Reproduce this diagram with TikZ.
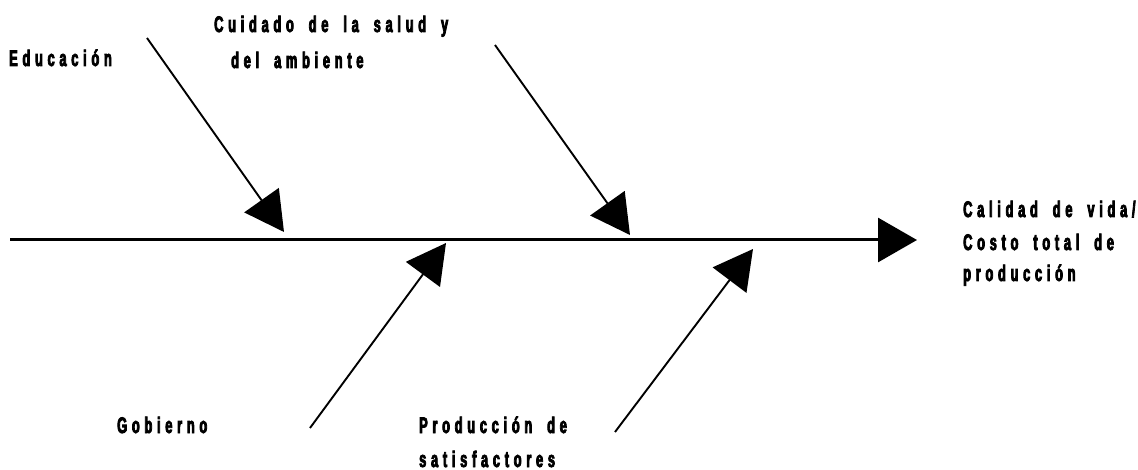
\documentclass[tikz,border=0pt]{standalone}
\usepackage{fontspec}
\newfontfamily\labfont{Liberation Sans}[FakeStretch=0.57, LetterSpace=21, WordSpace=1.8, FakeBold=3.5]
\usetikzlibrary{arrows.meta}
\tikzset{
  lab/.style={anchor=base west, inner sep=0pt, font=\labfont\bfseries\fontsize{22.5}{25}\selectfont},
  spine/.style={line width=3pt, -{Triangle[length=39pt,width=44pt]}},
  bone/.style={line width=1.9pt, -{Triangle[length=39pt,width=42pt]}}
}
\begin{document}
\begin{tikzpicture}[x=1pt,y=-1pt]
\useasboundingbox (0,0) rectangle (1138,470);
% spine
\coordinate (s0) at (10,240);
\coordinate (s1) at (917,240);
\draw[spine] (s0) -- (s1);
% bones
\coordinate (a0) at (147,38);  \coordinate (a1) at (284,232);
\coordinate (b0) at (495,45);  \coordinate (b1) at (630,235);
\coordinate (c0) at (310,428); \coordinate (c1) at (446,243);
\coordinate (d0) at (615,432); \coordinate (d1) at (753,249);
\draw[bone] (a0) -- (a1);
\draw[bone] (b0) -- (b1);
\draw[bone] (c0) -- (c1);
\draw[bone] (d0) -- (d1);
% labels
\node[lab] (educ) at (9,66) {Educación};
\node[lab] (cuid1) at (214,32) {Cuidado de la salud y};
\node[lab] (cuid2) at (231,68) {del ambiente};
\node[lab] (cal1) at (963,217) {Calidad de vida/};
\node[lab] (cal2) at (963,250) {Costo total de};
\node[lab] (cal3) at (963,281) {producción};
\node[lab] (gob) at (117,433) {Gobierno};
\node[lab] (prod1) at (419,433) {Producción de};
\node[lab] (prod2) at (419,467) {satisfactores};
\end{tikzpicture}
\end{document}
